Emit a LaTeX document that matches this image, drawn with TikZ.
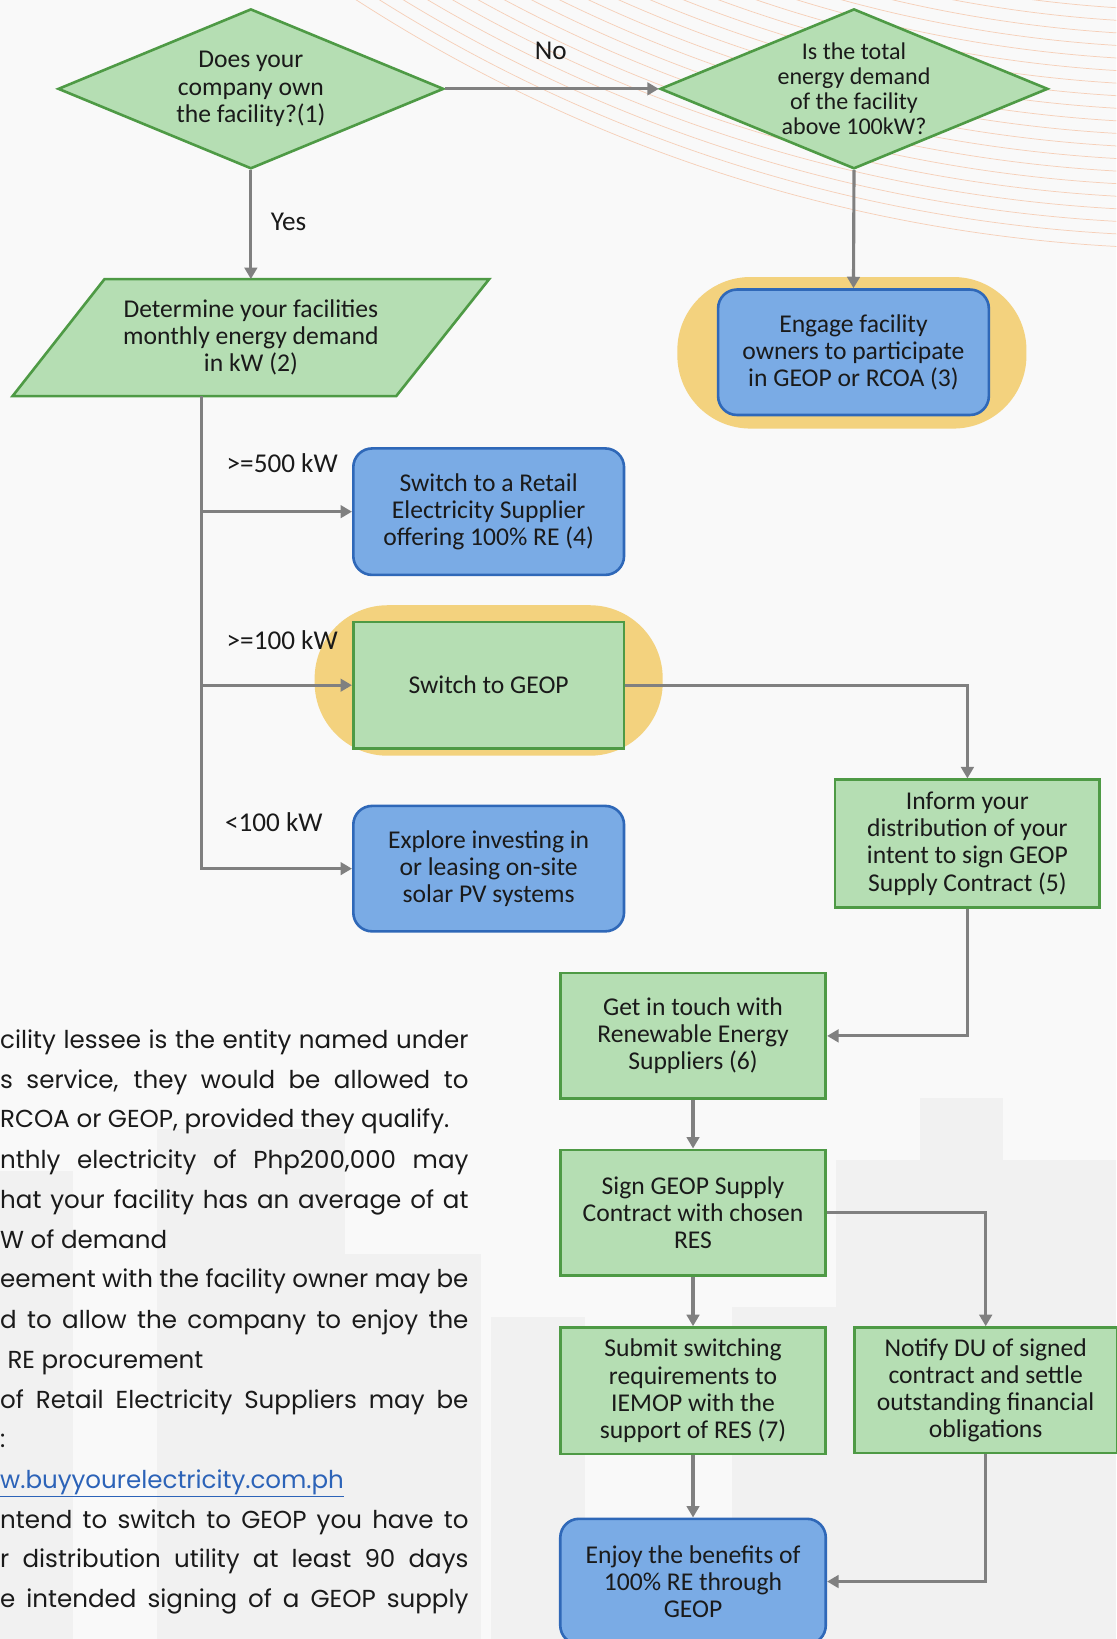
\documentclass[tikz,border=0pt]{standalone}
\usepackage{fontspec}
\setmainfont{Carlito}
\newfontfamily\popfont{Poppins}
\usetikzlibrary{arrows.meta,shapes.geometric,calc}
\definecolor{gfill}{HTML}{B5DEB3}
\definecolor{gdraw}{HTML}{4E9A45}
\definecolor{bfill}{HTML}{7AABE5}
\definecolor{bdraw}{HTML}{2F68B8}
\definecolor{hl}{HTML}{F3D27E}
\definecolor{arr}{HTML}{808080}
\definecolor{bgc}{HTML}{F9F9F9}
\definecolor{arcc}{HTML}{F6CFB8}
\definecolor{linkc}{HTML}{2C63B8}
\definecolor{txt}{HTML}{1A1A1A}
\newcommand\boxfnt{\fontsize{24.5}{26}\selectfont}
\newcommand\smallboxfnt{\fontsize{23}{24}\selectfont}
\newcommand\labfnt{\fontsize{26}{28}\selectfont}
\newcommand\parfnt{\popfont\fontsize{23.5}{38}\selectfont}
\begin{document}
\begin{tikzpicture}[x=1pt,y=-1pt,
  conn/.style={draw=arr, line width=3pt, -{Triangle[length=11pt,width=12pt]}},
  gbox/.style={draw=gdraw, fill=gfill, line width=2.5pt, align=center, inner sep=0pt, font=\boxfnt, text=txt},
  bbox/.style={draw=bdraw, fill=bfill, line width=2.5pt, rounded corners=18pt, align=center, inner sep=0pt, font=\boxfnt, text=txt},
  dia/.style={diamond, draw=gdraw, fill=gfill, line width=2.5pt, align=center, inner sep=-6pt, shape aspect=2.41, text=txt},
  lab/.style={font=\labfnt, inner sep=0pt, text=txt},
  hlite/.style={fill=hl, rounded corners=70pt},
  para/.style={anchor=base west, inner sep=0pt, font=\parfnt, text=txt}]
% background
\fill[bgc] (0,0) rectangle (1068,1568);
\useasboundingbox (0,0) rectangle (1068,1568);
\begin{scope}
\clip (0,0) rectangle (1068,1568);
% faint skyline
\begin{scope}[fill=black, opacity=0.03]
\fill (150,1080) rectangle (330,1568);
\fill (330,1200) rectangle (460,1568);
\fill (0,1120) rectangle (70,1568);
\fill (470,1260) rectangle (560,1568);
\fill (800,1110) rectangle (1068,1568);
\fill (700,1250) rectangle (800,1568);
\fill (880,1050) rectangle (960,1110);
\end{scope}
% orange arcs
\foreach \r in {1265,1277,...,1500} {
  \draw[arcc, line width=0.7pt] (1150,-1255) circle[radius=\r];
}
\end{scope}
% highlights
\fill[hlite] (648,265) rectangle (982,410);
\fill[hlite] (301,579) rectangle (634,723);
% parallelogram
\draw[draw=gdraw, fill=gfill, line width=2.5pt] (12,379) -- (100,267) -- (468,267) -- (379,379) -- cycle;
\coordinate (demtop) at (240,267);
\coordinate (dembot) at (193,379);
% nodes
\node[dia, font=\boxfnt, minimum width=369pt, minimum height=153pt] (q1) at (240,85) {Does your\\company own\\the facility?(1)};
\node[dia, font=\smallboxfnt, minimum width=371pt, minimum height=153pt] (q2) at (817,85) {Is the total\\energy demand\\of the facility\\above 100kW?};
\node[font=\boxfnt, text=txt, inner sep=0pt, align=center] (dem) at (240,323) {Determine your facilities\\monthly energy demand\\in kW (2)};
\node[bbox, minimum width=259pt, minimum height=120pt] (engage) at (816.5,337) {Engage facility\\owners to participate\\in GEOP or RCOA (3)};
\node[bbox, minimum width=259pt, minimum height=121pt] (retail) at (467.5,489.5) {Switch to a Retail\\Electricity Supplier\\offering 100\% RE (4)};
\node[gbox, minimum width=259pt, minimum height=121pt] (geop) at (467.5,655.5) {Switch to GEOP};
\node[bbox, minimum width=259pt, minimum height=120pt] (explore) at (467.5,831) {Explore investing in\\or leasing on-site\\solar PV systems};
\node[gbox, minimum width=253pt, minimum height=122pt] (inform) at (925.5,807) {Inform your\\distribution of your\\intent to sign GEOP\\Supply Contract (5)};
\node[gbox, minimum width=254pt, minimum height=120pt] (touch) at (663,991) {Get in touch with\\Renewable Energy\\Suppliers (6)};
\node[gbox, minimum width=254pt, minimum height=120pt] (sign) at (663,1160) {Sign GEOP Supply\\Contract with chosen\\RES};
\node[gbox, minimum width=254pt, minimum height=121pt] (submit) at (663,1330.5) {Submit switching\\requirements to\\IEMOP with the\\support of RES (7)};
\node[gbox, minimum width=251pt, minimum height=120pt] (notify) at (943,1330) {Notify DU of signed\\contract and settle\\outstanding financial\\obligations};
\node[bbox, minimum width=254pt, minimum height=120pt] (enjoy) at (663,1513) {Enjoy the benefits of\\100\% RE through\\GEOP};
% labels
\node[lab] (lno) at (527,49) {No};
\node[lab] (lyes) at (276,212) {Yes};
\node[lab] (l500) at (270,443) {>=500 kW};
\node[lab] (l100) at (270,612) {>=100 kW};
\node[lab] (llt) at (262,787) {<100 kW};
% connectors
\draw[conn] (q1.east) -- (q2.west);
\draw[conn] (q1.south) -- (demtop);
\draw[conn] (q2.south) -- (engage.north);
\draw[conn] (dembot) |- (explore.west);
\draw[conn] (dembot |- retail.west) -- (retail.west);
\draw[conn] (dembot |- geop.west) -- (geop.west);
\draw[conn] (geop.east) -| (inform.north);
\draw[conn] (inform.south) |- (touch.east);
\draw[conn] (touch.south) -- (sign.north);
\draw[conn] (sign.east) -| (notify.north);
\draw[conn] (sign.south) -- (submit.north);
\draw[conn] (submit.south) -- (enjoy.north);
\draw[conn] (notify.south) |- (enjoy.east);
% paragraph text
\node[para] (t1) at (0,1003) {\makebox[448pt][s]{cility lessee is the entity named under}};
\node[para] (t2) at (0,1041) {\makebox[448pt][s]{s service, they would be allowed to}};
\node[para] (t3) at (0,1079) {RCOA or GEOP, provided they qualify.};
\node[para] (t4) at (0,1118) {\makebox[448pt][s]{nthly electricity of Php200,000 may}};
\node[para] (t5) at (0,1156) {\makebox[448pt][s]{hat your facility has an average of at}};
\node[para] (t6) at (0,1194) {W of demand};
\node[para] (t7) at (0,1232) {\makebox[448pt][s]{eement with the facility owner may be}};
\node[para] (t8) at (0,1271) {\makebox[448pt][s]{d to allow the company to enjoy the}};
\node[para] (t9) at (7,1309) {RE procurement};
\node[para] (t10) at (0,1347) {\makebox[448pt][s]{of Retail Electricity Suppliers may be}};
\node[para] (t11) at (0,1385) {:};
\node[para, text=linkc] (t12) at (0,1424) {\underline{w.buyyourelectricity.com.ph}};
\node[para] (t13) at (0,1462) {\makebox[448pt][s]{ntend to switch to GEOP you have to}};
\node[para] (t14) at (0,1500) {\makebox[448pt][s]{r distribution utility at least 90 days}};
\node[para] (t15) at (0,1538) {\makebox[448pt][s]{e intended signing of a GEOP supply}};
\end{tikzpicture}
\end{document}
